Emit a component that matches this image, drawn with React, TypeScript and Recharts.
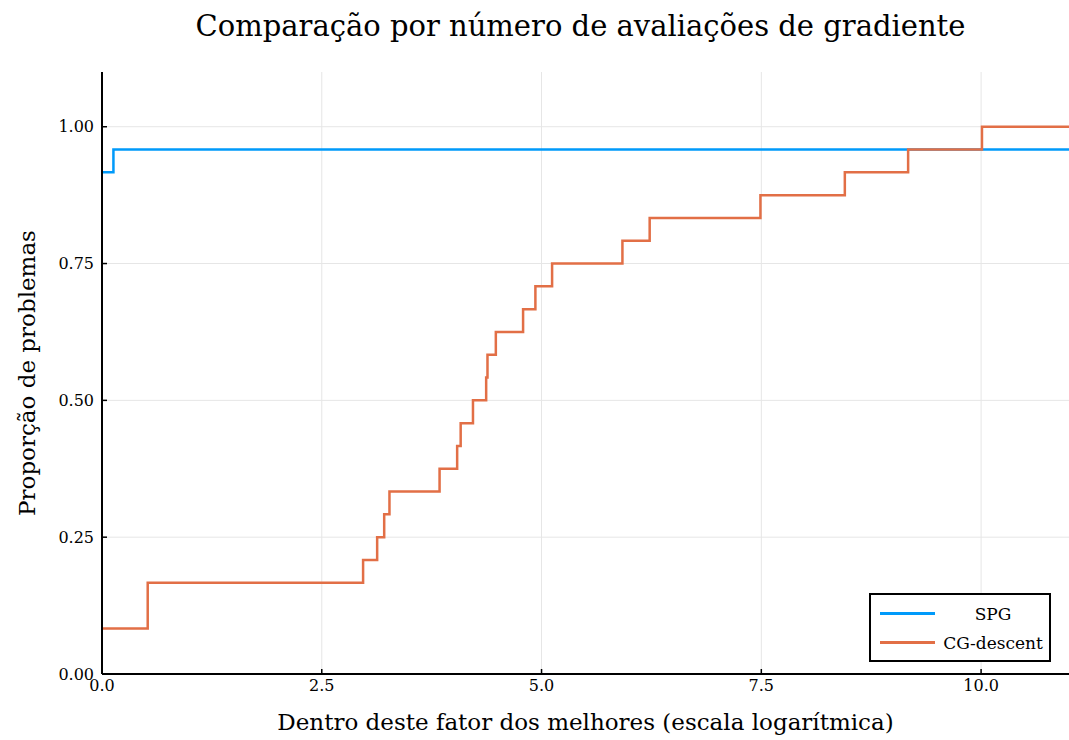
import React from "react";
import {
  LineChart,
  Line,
  XAxis,
  YAxis,
  ReferenceLine,
  Label,
} from "recharts";

const TITLE = "Comparação por número de avaliações de gradiente";
const X_LABEL = "Dentro deste fator dos melhores (escala logarítmica)";
const Y_LABEL = "Proporção de problemas";

// step profiles
const spgX = [0, 0.13, 11];
const spgY = [0.9167, 0.9583, 0.9583];

const cgX = [
  0, 0.52, 2.97, 3.13, 3.21, 3.27, 3.84, 4.04, 4.08, 4.22, 4.37, 4.385, 4.48,
  4.79, 4.93, 5.12, 5.92, 6.23, 7.49, 8.45, 9.17, 10.01, 11,
];
const cgY = [
  0.0833, 0.1667, 0.2083, 0.25, 0.2917, 0.3333, 0.375, 0.4167, 0.4583, 0.5,
  0.5417, 0.5833, 0.625, 0.6667, 0.7083, 0.75, 0.7917, 0.8333, 0.875, 0.9167,
  0.9583, 1.0, 1.0,
];

const xTicks = [0, 2.5, 5, 7.5, 10];
const yTicks = [0, 0.25, 0.5, 0.75, 1];

const SPG_COLOR = "#009AFA";
const CG_COLOR = "#E26F46";
const GRID = "#e6e6e6";
const FONT = "'DejaVu Serif', serif";
const X_MARGIN = 3;
const Y_MARGIN = 8;
const TICK_LEN = 5;

const spgData = spgX.map((x, i) => ({ x, y: spgY[i] }));
const cgData = cgX.map((x, i) => ({ x, y: cgY[i] }));

const legendItems = [
  { name: "SPG", color: SPG_COLOR },
  { name: "CG-descent", color: CG_COLOR },
];

// Plots.jl draws short ticks pointing into the plot
function XTick({ x, y, payload }: any) {
  const axisY = y - X_MARGIN;
  return (
    <g>
      <line x1={x} x2={x} y1={axisY} y2={axisY - TICK_LEN} stroke="#000" strokeWidth={1.5} />
      <text x={x} y={y} dy="0.9em" textAnchor="middle" fontFamily={FONT} fontSize={16} fill="#000">
        {Number(payload.value).toFixed(1)}
      </text>
    </g>
  );
}

function YTick({ x, y, payload }: any) {
  const axisX = x + Y_MARGIN;
  return (
    <g>
      <line x1={axisX} x2={axisX + TICK_LEN} y1={y} y2={y} stroke="#000" strokeWidth={1.5} />
      <text x={x} y={y} dy="0.35em" textAnchor="end" fontFamily={FONT} fontSize={16} fill="#000">
        {Number(payload.value).toFixed(2)}
      </text>
    </g>
  );
}

function LegendBox() {
  return (
    <div
      style={{
        position: "absolute",
        left: 869,
        top: 593,
        border: "2px solid #000",
        background: "#fff",
        width: 182,
        height: 69,
        boxSizing: "border-box",
        fontFamily: FONT,
        fontSize: 17,
        padding: "4px 0",
      }}
    >
      {legendItems.map((it) => (
        <div key={it.name} style={{ display: "flex", alignItems: "center", height: 29 }}>
          <div style={{ width: 55, height: 3, background: it.color, marginLeft: 9 }} />
          <div style={{ flex: 1, textAlign: "center", paddingLeft: 2 }}>{it.name}</div>
        </div>
      ))}
    </div>
  );
}

export default function App() {
  return (
    <div
      style={{
        position: "absolute",
        left: 0,
        top: 0,
        width: 1069,
        height: 740,
        background: "#fff",
      }}
    >
      <div
        style={{
          position: "absolute",
          left: 0,
          top: 9,
          width: 1161,
          textAlign: "center",
          fontFamily: FONT,
          fontSize: 29,
          color: "#000",
        }}
      >
        {TITLE}
      </div>
      <LineChart width={1069} height={740} margin={{ top: 72, right: 0, bottom: 0, left: 0 }}>
        {xTicks.map((t) => (
          <ReferenceLine key={"gx" + t} x={t} stroke={GRID} strokeWidth={1} />
        ))}
        {yTicks.map((t) => (
          <ReferenceLine key={"gy" + t} y={t} stroke={GRID} strokeWidth={1} />
        ))}
        <XAxis
          type="number"
          dataKey="x"
          domain={[0, 11]}
          ticks={xTicks}
          allowDataOverflow
          height={66}
          axisLine={{ stroke: "#000", strokeWidth: 2 }}
          tickLine={false}
          tickSize={0}
          tickMargin={X_MARGIN}
          tick={<XTick />}
        >
          <Label
            content={({ viewBox }: any) => (
              <text
                x={viewBox.x + viewBox.width / 2}
                y={730}
                textAnchor="middle"
                fontFamily={FONT}
                fontSize={23}
                fill="#000"
              >
                {X_LABEL}
              </text>
            )}
          />
        </XAxis>
        <YAxis
          type="number"
          dataKey="y"
          domain={[0, 1.1]}
          ticks={yTicks}
          allowDataOverflow
          width={102}
          axisLine={{ stroke: "#000", strokeWidth: 2 }}
          tickLine={false}
          tickSize={0}
          tickMargin={Y_MARGIN}
          tick={<YTick />}
        >
          <Label
            content={({ viewBox }: any) => {
              const cy = viewBox.y + viewBox.height / 2;
              return (
                <text
                  x={35}
                  y={cy}
                  transform={`rotate(-90 35 ${cy})`}
                  textAnchor="middle"
                  fontFamily={FONT}
                  fontSize={23}
                  fill="#000"
                >
                  {Y_LABEL}
                </text>
              );
            }}
          />
        </YAxis>
        <Line
          data={spgData}
          dataKey="y"
          name="SPG"
          type="stepAfter"
          stroke={SPG_COLOR}
          strokeWidth={2.5}
          dot={false}
          isAnimationActive={false}
        />
        <Line
          data={cgData}
          dataKey="y"
          name="CG-descent"
          type="stepAfter"
          stroke={CG_COLOR}
          strokeWidth={2.5}
          dot={false}
          isAnimationActive={false}
        />
      </LineChart>
      <LegendBox />
    </div>
  );
}
